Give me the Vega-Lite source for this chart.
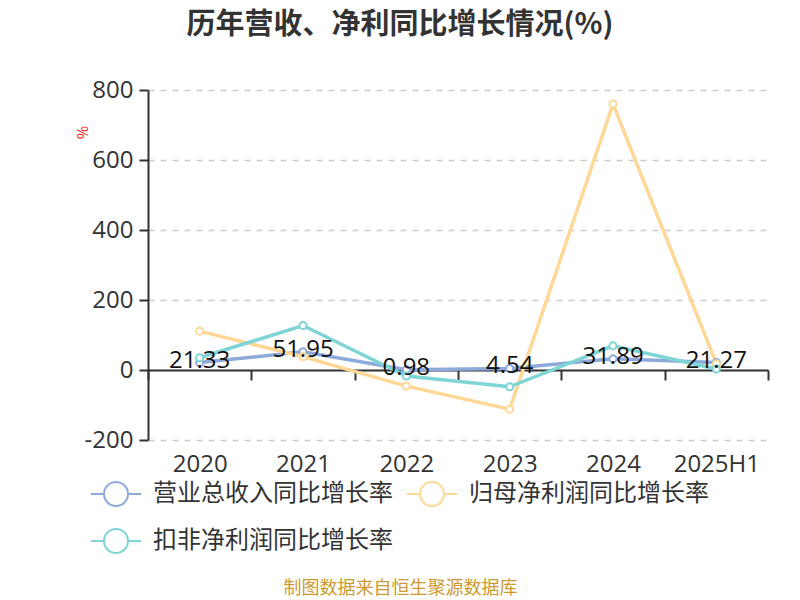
{
  "$schema": "https://vega.github.io/schema/vega-lite/v6.json",
  "width": 620,
  "height": 350,
  "autosize": {"type": "none"},
  "padding": {"left": 148, "top": 90, "right": 32, "bottom": 160},
  "background": "white",
  "config": {
    "font": "Noto Sans CJK SC",
    "view": {"stroke": null}
  },
  "title": {
    "text": "历年营收、净利同比增长情况(%)",
    "fontSize": 29,
    "fontWeight": "bold",
    "color": "#333333",
    "anchor": "middle",
    "dx": -58,
    "offset": 38
  },
  "data": {
    "values": [
      {"year": "2020", "series": "营业总收入同比增长率", "value": 21.33},
      {"year": "2021", "series": "营业总收入同比增长率", "value": 51.95},
      {"year": "2022", "series": "营业总收入同比增长率", "value": 0.98},
      {"year": "2023", "series": "营业总收入同比增长率", "value": 4.54},
      {"year": "2024", "series": "营业总收入同比增长率", "value": 31.89},
      {"year": "2025H1", "series": "营业总收入同比增长率", "value": 21.27},
      {"year": "2020", "series": "归母净利润同比增长率", "value": 111},
      {"year": "2021", "series": "归母净利润同比增长率", "value": 38},
      {"year": "2022", "series": "归母净利润同比增长率", "value": -46},
      {"year": "2023", "series": "归母净利润同比增长率", "value": -112},
      {"year": "2024", "series": "归母净利润同比增长率", "value": 760},
      {"year": "2025H1", "series": "归母净利润同比增长率", "value": 18},
      {"year": "2020", "series": "扣非净利润同比增长率", "value": 35},
      {"year": "2021", "series": "扣非净利润同比增长率", "value": 127},
      {"year": "2022", "series": "扣非净利润同比增长率", "value": -17},
      {"year": "2023", "series": "扣非净利润同比增长率", "value": -48},
      {"year": "2024", "series": "扣非净利润同比增长率", "value": 69},
      {"year": "2025H1", "series": "扣非净利润同比增长率", "value": 3}
    ]
  },
  "encoding": {
    "x": {
      "field": "year",
      "type": "nominal",
      "sort": null,
      "scale": {"type": "band", "paddingInner": 0, "paddingOuter": 0},
      "axis": {
        "title": "制图数据来自恒生聚源数据库",
        "titleColor": "#cc9933",
        "titleFontSize": 18,
        "titleFontWeight": "normal",
        "titleX": 252,
        "titleAnchor": "middle",
        "titleAlign": "center",
        "titleY": 218,
        "titleBaseline": "middle",
        "labelAngle": 0,
        "labelFont": "Open Sans",
        "labelFontSize": 24,
        "labelColor": "#333333",
        "labelPadding": 72,
        "offset": -70,
        "domainColor": "#333333",
        "domainWidth": 2,
        "tickColor": "#333333",
        "tickWidth": 2,
        "tickSize": 10,
        "tickBand": "extent",
        "grid": false
      }
    },
    "y": {
      "field": "value",
      "type": "quantitative",
      "scale": {"domain": [-200, 800], "nice": false},
      "axis": {
        "values": [-200, 0, 200, 400, 600, 800],
        "labelExpr": "'' + datum.value",
        "title": "%",
        "titleColor": "#ff0000",
        "titleFontSize": 14,
        "titleFontWeight": "normal",
        "titleAngle": -90,
        "titleX": -58,
        "titleY": 42,
        "labelFont": "Open Sans",
        "labelFontSize": 24,
        "labelColor": "#333333",
        "labelPadding": 6,
        "domainColor": "#333333",
        "domainWidth": 2,
        "tickColor": "#333333",
        "tickWidth": 2,
        "tickSize": 9,
        "gridColor": "#cccccc",
        "gridDash": [6, 6],
        "gridWidth": 1.5
      }
    }
  },
  "layer": [
    {
      "mark": {"type": "line", "strokeWidth": 3.5},
      "encoding": {
        "color": {
          "field": "series",
          "type": "nominal",
          "sort": ["营业总收入同比增长率", "归母净利润同比增长率", "扣非净利润同比增长率"],
          "scale": {
            "domain": ["营业总收入同比增长率", "归母净利润同比增长率", "扣非净利润同比增长率"],
            "range": ["#8eaadb", "#ffd898", "#7fd4d6"]
          },
          "legend": {
            "title": null,
            "orient": "none",
            "legendX": -48,
            "legendY": 388,
            "direction": "horizontal",
            "columns": 2,
            "columnPadding": 9,
            "rowPadding": 15,
            "padding": 0,
            "symbolType": "M-1.67,0L-0.8,0M0.8,0L1.67,0M-0.8,0A0.8,0.8,0,1,1,0.8,0A0.8,0.8,0,1,1,-0.8,0",
            "symbolSize": 900,
            "symbolStrokeWidth": 2,
            "symbolFillColor": "white",
            "labelFontSize": 24,
            "labelColor": "#333333",
            "labelOffset": 21,
            "labelLimit": 400
          }
        }
      }
    },
    {
      "mark": {"type": "point", "filled": true, "fill": "white", "size": 50, "strokeWidth": 2, "opacity": 1},
      "encoding": {
        "stroke": {
          "field": "series",
          "type": "nominal",
          "scale": {
            "domain": ["营业总收入同比增长率", "归母净利润同比增长率", "扣非净利润同比增长率"],
            "range": ["#8eaadb", "#ffd898", "#7fd4d6"]
          },
          "legend": null
        }
      }
    },
    {
      "transform": [{"filter": "datum.series === '营业总收入同比增长率'"}],
      "mark": {"type": "text", "font": "Open Sans", "fontSize": 24, "color": "#111111", "baseline": "middle", "dy": -2},
      "encoding": {
        "text": {"field": "value", "type": "quantitative", "format": ".2f"}
      }
    }
  ]
}
